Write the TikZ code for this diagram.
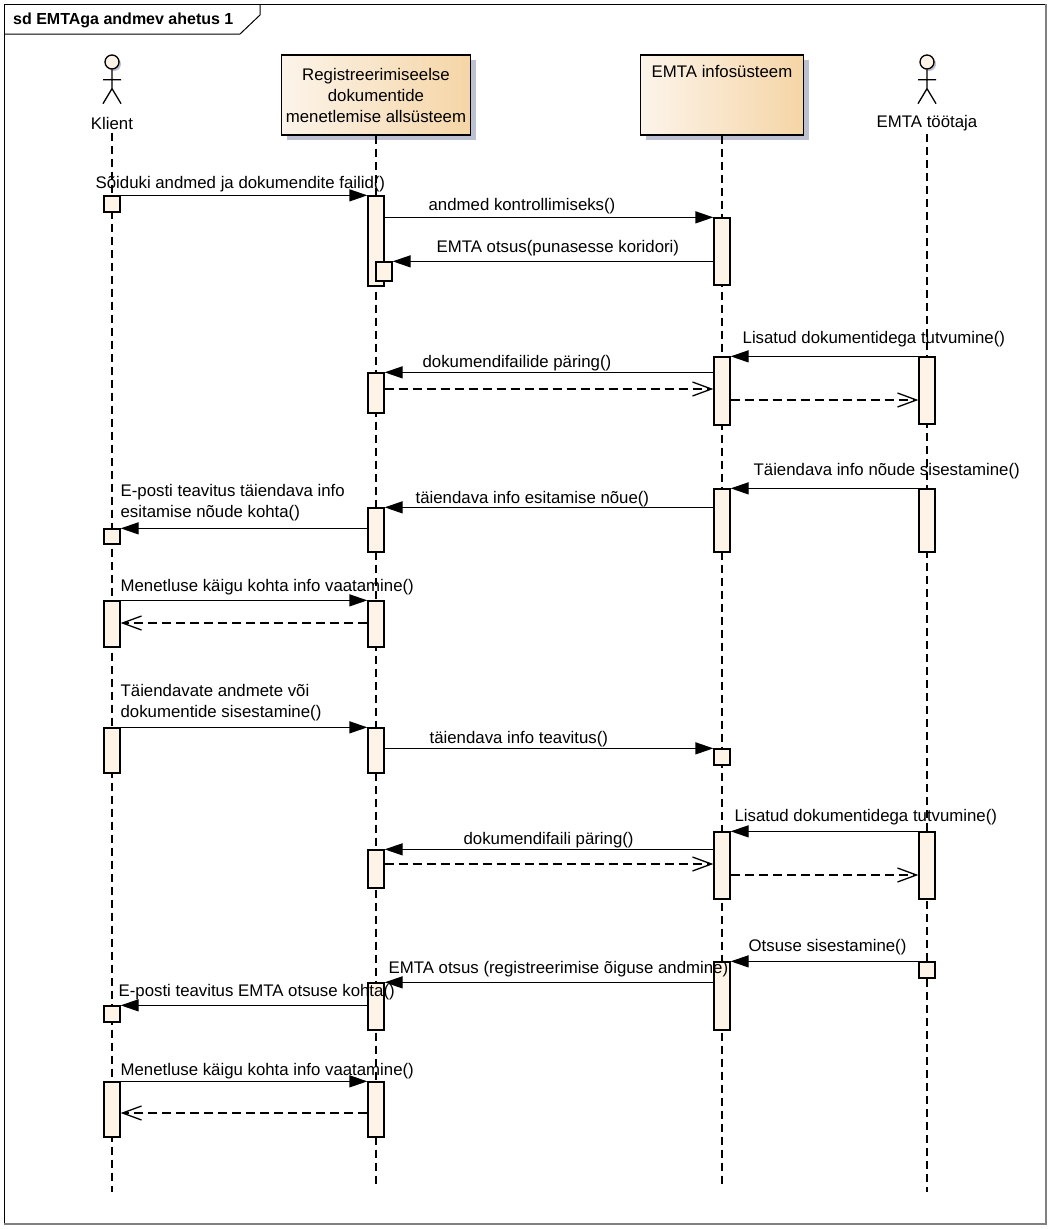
\documentclass[tikz,border=0pt]{standalone}
\usepackage{fontspec}
\setmainfont{Liberation Sans}
\usepackage{tikz}
\usetikzlibrary{arrows.meta,shadows}
\definecolor{actfill}{HTML}{FDF3E6}
\definecolor{boxleft}{HTML}{FCF4EA}
\definecolor{boxright}{HTML}{F5D5A6}
\definecolor{shadowgray}{HTML}{BCC0D0}

\begin{document}
\begin{tikzpicture}[every node/.style={font=\fontsize{16.8bp}{21bp}\selectfont},
  act/.style={draw,line width=1.3bp,fill=actfill,minimum width=16bp,inner sep=0pt},
  sync/.style={-{Triangle[length=18bp,width=12bp]},line width=1.3bp},
  ret/.style={-{Straight Barb[length=19bp,width=14bp]},line width=1.3bp,dash pattern=on 9bp off 5bp},
  lifeline/.style={line width=1.3bp,dash pattern=on 8bp off 5bp},
  lbl/.style={anchor=west,inner sep=0pt,align=left},
  box/.style={draw,line width=1.3bp,left color=boxleft,right color=boxright,align=center,inner sep=4bp,
    general shadow={fill=shadowgray,shadow xshift=5bp,shadow yshift=-5bp}},
  head/.style={draw,circle,minimum size=14bp,inner sep=0pt,line width=1.3bp,fill=actfill,
    general shadow={fill=shadowgray,shadow xshift=2bp,shadow yshift=-2bp}},
  stick/.style={line width=1.3bp}]
\useasboundingbox (0bp,0bp) rectangle (1048bp,-1229bp);

% frame
\draw [line width=1bp] (4bp,-4bp) rectangle (1046bp,-1224bp);
\draw [line width=2bp,black!50] (1046bp,-4bp) -- (1046bp,-1224bp) -- (4bp,-1224bp);
\draw [line width=1bp] (4bp,-34bp) -- (240bp,-34bp) -- (260bp,-15bp) -- (260bp,-4bp);
\node (title) at (13bp,-20bp)[anchor=west,inner sep=0pt,font=\fontsize{16bp}{19bp}\selectfont\bfseries] {sd EMTAga andmev ahetus 1};

% heads
\node (KH) at (112bp,-62bp)[head] {};
\draw [stick] (KH.south) -- ++(0bp,-19bp) -- ++(-9bp,-15bp) (KH.south) ++(0bp,-19bp) -- ++(9bp,-15bp) (KH.south) ++(-9bp,-10bp) -- ++(18bp,0bp);
\node (K) at (112bp,-123bp) {Klient};
\node (R) at (376bp,-95bp)[box,minimum width=189bp,minimum height=80bp] {Registreerimiseelse\\dokumentide\\menetlemise allsüsteem};
\node (S) at (722bp,-95bp)[box,minimum width=163bp,text height=18bp,text depth=54bp] {EMTA infosüsteem};
\node (TH) at (927bp,-62bp)[head] {};
\draw [stick] (TH.south) -- ++(0bp,-19bp) -- ++(-9bp,-15bp) (TH.south) ++(0bp,-19bp) -- ++(9bp,-15bp) (TH.south) ++(-9bp,-10bp) -- ++(18bp,0bp);
\node (T) at (927bp,-123bp) {EMTA töötaja};

% lifelines
\coordinate (Kend) at (112bp,-1192bp);
\coordinate (Rend) at (376bp,-1188bp);
\coordinate (Send) at (722bp,-1188bp);
\coordinate (Tend) at (927bp,-1192bp);
\draw [lifeline] (K) -- (Kend);
\draw [lifeline] (R) -- (Rend);
\draw [lifeline] (S) -- (Send);
\draw [lifeline] (T) -- (Tend);

% activations
\node (K1) at (112bp,-204bp)[act,minimum height=16bp] {};
\node (K2) at (112bp,-536.5bp)[act,minimum height=15bp] {};
\node (K3) at (112bp,-624bp)[act,minimum height=46bp] {};
\node (K4) at (112bp,-750.5bp)[act,minimum height=45bp] {};
\node (K5) at (112bp,-1014bp)[act,minimum height=16bp] {};
\node (K6) at (112bp,-1109.5bp)[act,minimum height=55bp] {};
\node (R1) at (376bp,-241bp)[act,minimum height=90bp] {};
\node (R1b) at (384bp,-271.5bp)[act,minimum height=19bp] {};
\node (R2) at (376bp,-393bp)[act,minimum height=40bp] {};
\node (R3) at (376bp,-530bp)[act,minimum height=44bp] {};
\node (R4) at (376bp,-624bp)[act,minimum height=46bp] {};
\node (R5) at (376bp,-750.5bp)[act,minimum height=45bp] {};
\node (R6) at (376bp,-869bp)[act,minimum height=38bp] {};
\node (R7) at (376bp,-1006.5bp)[act,minimum height=47bp] {};
\node (R8) at (376bp,-1109.5bp)[act,minimum height=55bp] {};
\node (S1) at (722bp,-251.5bp)[act,minimum height=67bp] {};
\node (S2) at (722bp,-391bp)[act,minimum height=68bp] {};
\node (S3) at (722bp,-520.5bp)[act,minimum height=63bp] {};
\node (S4) at (722bp,-757bp)[act,minimum height=16bp] {};
\node (S5) at (722bp,-865.5bp)[act,minimum height=67bp] {};
\node (S6) at (722bp,-996bp)[act,minimum height=68bp] {};
\node (T1) at (927bp,-390.5bp)[act,minimum height=67bp] {};
\node (T2) at (927bp,-520.5bp)[act,minimum height=63bp] {};
\node (T3) at (927bp,-865.5bp)[act,minimum height=67bp] {};
\node (T4) at (927bp,-970bp)[act,minimum height=16bp] {};

% message rows without a box top
\coordinate (m6) at (0bp,-389bp);
\coordinate (m7) at (0bp,-400bp);
\coordinate (m12) at (0bp,-623bp);
\coordinate (m17) at (0bp,-864bp);
\coordinate (m18) at (0bp,-875bp);
\coordinate (m23) at (0bp,-1113bp);

% messages
\draw [sync] (K1.north east) -- (R1.north west) node[lbl] at (95bp,-184bp) {Sõiduki andmed ja dokumendite failid()};
\draw [sync] (R1.east |- S1.north) -- (S1.north west) node[lbl] at (428bp,-206bp) {andmed kontrollimiseks()};
\draw [sync] (S1.west |- R1b.north) -- (R1b.north east) node[lbl] at (436bp,-248bp) {EMTA otsus(punasesse koridori)};
\draw [sync] (T1.north west) -- (S2.north east) node[lbl] at (742bp,-339bp) {Lisatud dokumentidega tutvumine()};
\draw [sync] (S2.west |- R2.north) -- (R2.north east) node[lbl] at (422bp,-363bp) {dokumendifailide päring()};
\draw [ret] (R2.east |- m6) -- (S2.west |- m6);
\draw [ret] (S2.east |- m7) -- (T1.west |- m7);
\draw [sync] (T2.north west) -- (S3.north east) node[lbl] at (753bp,-471bp) {Täiendava info nõude sisestamine()};
\draw [sync] (S3.west |- R3.north) -- (R3.north east) node[lbl] at (415bp,-499bp) {täiendava info esitamise nõue()};
\draw [sync] (R3.west |- K2.north) -- (K2.north east) node[lbl] at (120bp,-502.5bp) {E-posti teavitus täiendava info\\esitamise nõude kohta()};
\draw [sync] (K3.north east) -- (R4.north west) node[lbl] at (120bp,-587bp) {Menetluse käigu kohta info vaatamine()};
\draw [ret] (R4.west |- m12) -- (K3.east |- m12);
\draw [sync] (K4.north east) -- (R5.north west) node[lbl] at (120bp,-703bp) {Täiendavate andmete või\\dokumentide sisestamine()};
\draw [sync] (R5.east |- S4.north) -- (S4.north west) node[lbl] at (429bp,-739bp) {täiendava info teavitus()};
\draw [sync] (T3.north west) -- (S5.north east) node[lbl] at (734bp,-817bp) {Lisatud dokumentidega tutvumine()};
\draw [sync] (S5.west |- R6.north) -- (R6.north east) node[lbl] at (463bp,-840bp) {dokumendifaili päring()};
\draw [ret] (R6.east |- m17) -- (S5.west |- m17);
\draw [ret] (S5.east |- m18) -- (T3.west |- m18);
\draw [sync] (T4.north west) -- (S6.north east) node[lbl] at (748bp,-947bp) {Otsuse sisestamine()};
\draw [sync] (S6.west |- R7.north) -- (R7.north east) node[lbl] at (388bp,-969bp) {EMTA otsus (registreerimise õiguse andmine)};
\draw [sync] (R7.west |- K5.north) -- (K5.north east) node[lbl] at (118bp,-992bp) {E-posti teavitus EMTA otsuse kohta()};
\draw [sync] (K6.north east) -- (R8.north west) node[lbl] at (120bp,-1071bp) {Menetluse käigu kohta info vaatamine()};
\draw [ret] (R8.west |- m23) -- (K6.east |- m23);
\end{tikzpicture}
\end{document}
